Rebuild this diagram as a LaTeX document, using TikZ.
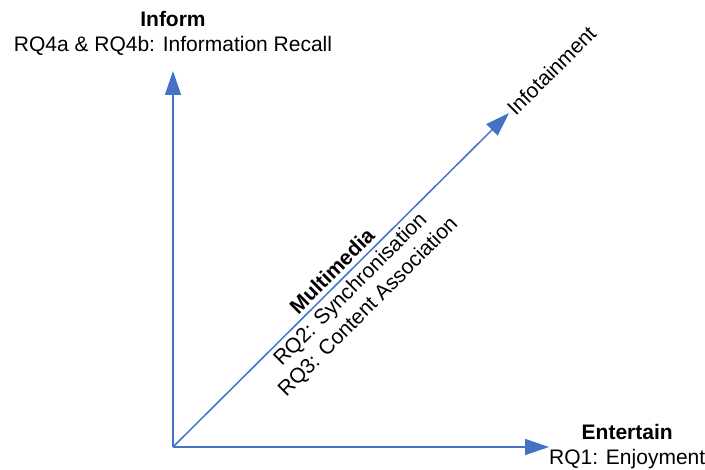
\documentclass[tikz,border=0pt]{standalone}
\usepackage{fontspec}
\setmainfont{Liberation Sans}
\usetikzlibrary{arrows.meta,positioning,calc}
\definecolor{axisblue}{HTML}{4472C4}

\begin{document}
\begin{tikzpicture} [x=1pt,y=1pt,>={Triangle[length=24pt,width=16pt]},
    every node/.style={inner sep=0pt,align=center,
      font=\fontsize{21}{25}\selectfont},
    axis/.style={->,draw=axisblue,line width=1.5pt},
    slanted/.style={rotate=45}
    ]
    \useasboundingbox (0,0) rectangle (705,470);
    \coordinate (o) at (173,23);
    \coordinate (yend) at (173,399);
    \coordinate (xend) at (549,23);
    \coordinate (dend) at (509,357);
    \node (n1) [above=15pt of yend] {\textbf{Inform}\\ RQ4a \& RQ4b: Information Recall};
    \node (n2) [right=0pt of xend] {\textbf{Entertain}\\ RQ1: Enjoyment};
    \node (n3) [slanted, anchor=west, inner sep=2pt] at (dend) {Infotainment};
    \node (n4) [slanted] at ($(o)!0.5!(dend) + (9.9,-9.9)$)
     {\textbf{Multimedia}\\ RQ2: Synchronisation\\ RQ3: Content Association};

     \draw   [axis]  (o) -- (yend);
     \draw   [axis]  (o) -- (xend);
     \draw   [axis]  (o) -- (dend);
  \end{tikzpicture}
\end{document}
